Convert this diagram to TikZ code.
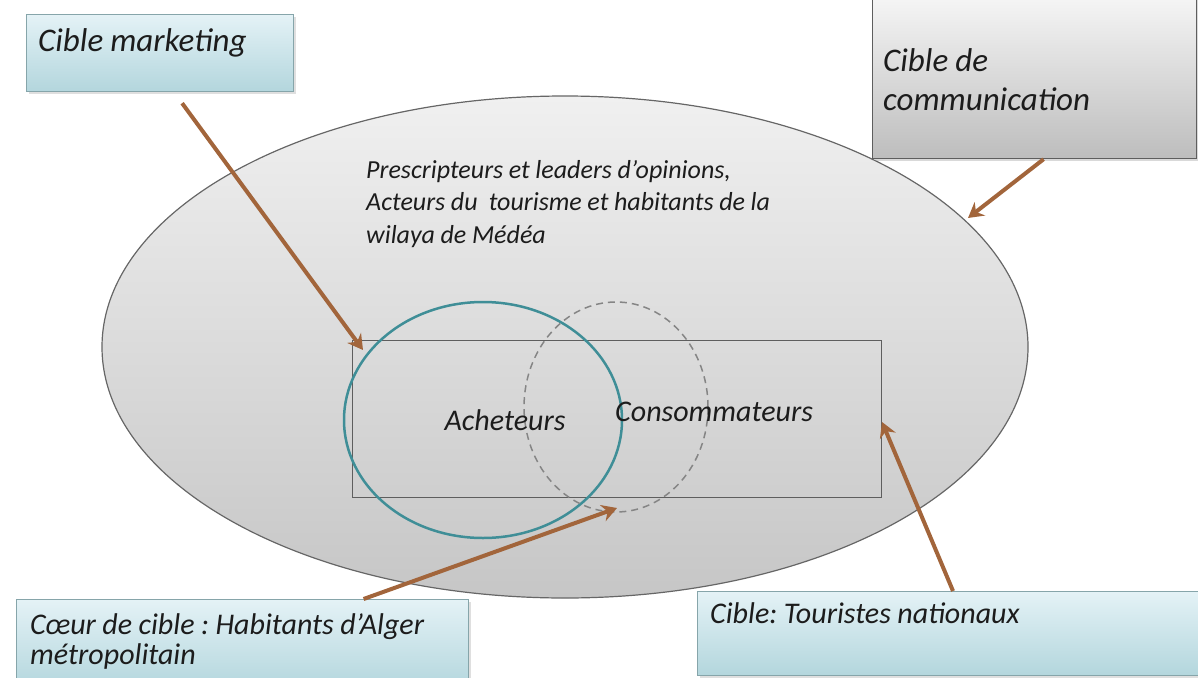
\documentclass[tikz,border=0pt]{standalone}
\usepackage{fontspec}
\setmainfont{Carlito}[WordSpace=0.95]
\usetikzlibrary{shapes.geometric,arrows.meta,shadows}
\definecolor{bluetop}{HTML}{E4F2F6}
\definecolor{bluebot}{HTML}{B3D6DD}
\definecolor{blueedge}{HTML}{86A5AA}
\definecolor{greytop}{HTML}{F6F6F6}
\definecolor{greybot}{HTML}{BDBDBD}
\definecolor{greyedge}{HTML}{5E5E5E}
\definecolor{ovaltop}{HTML}{F0F0F0}
\definecolor{ovalbot}{HTML}{C6C6C6}
\definecolor{ovaledge}{HTML}{666666}
\definecolor{teal}{HTML}{3F8E97}
\definecolor{arrbrown}{HTML}{A2653B}
\definecolor{ink}{HTML}{1C1C1C}
\frenchspacing

\begin{document}
\begin{tikzpicture}[x=1pt,y=-1pt,
    bluebox/.style={draw=blueedge,line width=1.2pt,top color=bluetop,bottom color=bluebot,anchor=north west,inner sep=0pt,
      drop shadow={opacity=0.25,shadow xshift=2pt,shadow yshift=-2pt}},
    greybox/.style={draw=greyedge,line width=1.2pt,top color=greytop,bottom color=greybot,anchor=north west,inner sep=0pt,
      drop shadow={opacity=0.3,shadow xshift=2pt,shadow yshift=-2pt}},
    title/.style={font=\itshape\fontsize{33}{39}\selectfont,text=ink,inner sep=0pt,anchor=base west,align=flush left},
    lbl/.style={font=\itshape\fontsize{30}{30}\selectfont,text=ink,inner sep=0pt,align=flush left},
    arr/.style={draw=arrbrown,line width=4pt,-{Stealth[length=15pt,width=17pt,inset=5pt]}}]
\useasboundingbox (0,0) rectangle (1198,677);

\node[ellipse,draw=ovaledge,line width=1.2pt,top color=ovaltop,bottom color=ovalbot,minimum width=926pt,minimum height=502pt,inner sep=0pt] (oval) at (565,347) {};
\node[font=\itshape\fontsize{26}{32.5}\selectfont,text=ink,inner sep=0pt,anchor=base west,text width=440pt,align=flush left] (par) at (366,178)
  {Prescripteurs et leaders d’opinions,\\Acteurs du\ \ tourisme et habitants de la\\wilaya de Médéa};

\node[draw=greyedge,line width=1pt,minimum width=529pt,minimum height=157pt,anchor=north west,inner sep=0pt] (zone) at (352,340) {};
\node[ellipse,draw=teal,line width=2.5pt,minimum width=278pt,minimum height=236pt,inner sep=0pt] (buy) at (483,420) {};
\node[ellipse,draw=ovaledge!80,line width=1.5pt,dash pattern=on 7pt off 5pt,minimum width=184pt,minimum height=210pt,inner sep=0pt] (use) at (616,407) {};
\node[lbl,anchor=base] (achtxt) at (505,430) {Acheteurs};
\node[lbl,anchor=base west] (constxt) at (615,421) {Consommateurs};

\node[bluebox,minimum width=267pt,minimum height=77pt] (mkt) at (26,14) {};
\node[title] (mkttxt) at (38,52) {Cible marketing};
\node[greybox,minimum width=324pt,minimum height=164pt] (com) at (872,-6) {};
\node[title,text width=300pt] (comtxt) at (883,71) {Cible de\\communication};
\node[bluebox,minimum width=452pt,minimum height=90pt] (coeur) at (16,599) {};
\node[lbl,anchor=base west,text width=440pt] (coeurtxt) at (30,634) {Cœur de cible : Habitants d’Alger\\métropolitain};
\node[bluebox,minimum width=515pt,minimum height=84pt] (tour) at (697,591) {};
\node[lbl,anchor=base west] (tourtxt) at (710,623) {Cible: Touristes nationaux};

\coordinate (mktto) at (363,350);
\coordinate (comto) at (968,218);
\coordinate (coeurto) at (617,508);
\coordinate (tourto) at (882,422);
\draw[arr] ([xshift=22pt,yshift=-11pt]mkt.south) -- (mktto);
\draw[arr] ([xshift=9pt]com.south) -- (comto);
\draw[arr] ([xshift=121pt]coeur.north) -- (coeurto);
\draw[arr] ([xshift=256pt]tour.north west) -- (tourto);
\end{tikzpicture}
\end{document}
